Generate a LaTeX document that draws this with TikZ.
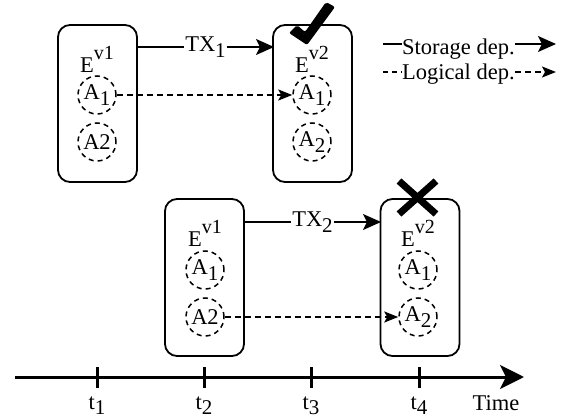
\documentclass[tikz,border=0pt]{standalone}
\usepackage{fontspec}
\setmainfont{Liberation Serif}
\usetikzlibrary{arrows.meta}
\newcommand\mainsz{\fontsize{22.5}{26}\selectfont}
\newcommand\hi[1]{\raisebox{13pt}{\fontsize{20}{20}\selectfont #1}}
\newcommand\lo[1]{\raisebox{-0.24em}{\fontsize{21}{21}\selectfont #1}}
\tikzset{
  entity/.style={draw, line width=1.8pt, rounded corners=12pt, minimum width=79pt, minimum height=157pt, inner sep=0pt},
  attr/.style={draw, circle, dash pattern=on 5pt off 4pt, line width=1.5pt, minimum size=38pt, inner sep=0pt},
  lbl/.style={inner sep=0pt},
  storage/.style={line width=1.6pt, -{Stealth[length=18pt,width=16pt,inset=4pt]}},
  logical/.style={line width=1.6pt, dash pattern=on 6pt off 4pt, -{Stealth[length=14pt,width=11pt,inset=3pt]}},
  tline/.style={line width=3pt},
}
\begin{document}
\begin{tikzpicture}[x=1pt,y=-1pt,font=\mainsz]
\useasboundingbox (0,0) rectangle (566,420);
% top row
\node[entity] (b1) at (97.5,103.5) {};
\node[entity] (b2) at (312.5,103.5) {};
\node[lbl, anchor=base] (e1) at (97,73) {E\hi{v1}};
\node[lbl, anchor=base] (e2) at (312,73) {E\hi{v2}};
\node[attr] (a11) at (97,95) {A\lo{1}};
\node[attr] (a12) at (97,142) {A2};
\node[attr] (a21) at (312,95) {A\lo{1}};
\node[attr] (a22) at (312,142) {A\lo{2}};
\coordinate (b1t) at (137,47);
\coordinate (b2t) at (274,47);
\draw[storage] (b1t) -- node[fill=white, inner sep=1pt] (tx1) {TX\lo{1}} (b2t);
\draw[logical] (a11.east) -- (a21.west);
% check mark
\fill[rounded corners=2pt] (289,33) -- (297,25) -- (305,32) -- (326,2) -- (335,7) -- (307,45) -- cycle;
% bottom row
\node[entity] (b3) at (204.5,277.5) {};
\node[entity] (b4) at (420,277.5) {};
\node[lbl, anchor=base] (e3) at (205,246) {E\hi{v1}};
\node[lbl, anchor=base] (e4) at (418,246) {E\hi{v2}};
\node[attr] (a31) at (205,270) {A\lo{1}};
\node[attr] (a32) at (205,317) {A2};
\node[attr] (a41) at (418,270) {A\lo{1}};
\node[attr] (a42) at (418,317) {A\lo{2}};
\coordinate (b3t) at (244,222);
\coordinate (b4t) at (381,222);
\draw[storage] (b3t) -- node[fill=white, inner sep=1pt] (tx2) {TX\lo{2}} (b4t);
\draw[logical] (a32.east) -- (a42.west);
\coordinate (xa) at (399,181);
\coordinate (xb) at (436,214);
\coordinate (xc) at (399,214);
\coordinate (xd) at (436,181);
\draw[line width=7pt] (xa) -- (xb) (xc) -- (xd);
% legend
\node[lbl, anchor=base west] (ls) at (402,55) {Storage dep.};
\node[lbl, anchor=base west] (ll) at (402,80) {Logical dep.};
\coordinate (ls0) at (383,44);
\coordinate (ls1) at (556,44);
\coordinate (ll0) at (383,72);
\coordinate (ll1) at (556,72);
\draw[line width=1.6pt] (ls0) -- (ls0 -| ls.west);
\draw[storage] (ls1 -| ls.east) -- (ls1);
\draw[line width=1.6pt, dash pattern=on 5pt off 4pt] (ll0) -- (ll0 -| ll.west);
\draw[logical] (ll1 -| ll.east) -- (ll1);
% timeline
\coordinate (ts) at (15,377);
\coordinate (te) at (524,377);
\draw[tline, -{Stealth[length=24pt,width=24pt,inset=6pt]}] (ts) -- (te);
\foreach \i/\x in {1/97,2/204,3/311,4/419}{
  \coordinate (tk\i a) at (\x,367);
  \coordinate (tk\i b) at (\x,388);
  \draw[tline] (tk\i a) -- (tk\i b);
  \node[lbl, anchor=base] (tl\i) at (\x,409) {t\lo{\i}};
}
\node[lbl, anchor=base] (time) at (496,410) {Time};
\end{tikzpicture}
\end{document}
